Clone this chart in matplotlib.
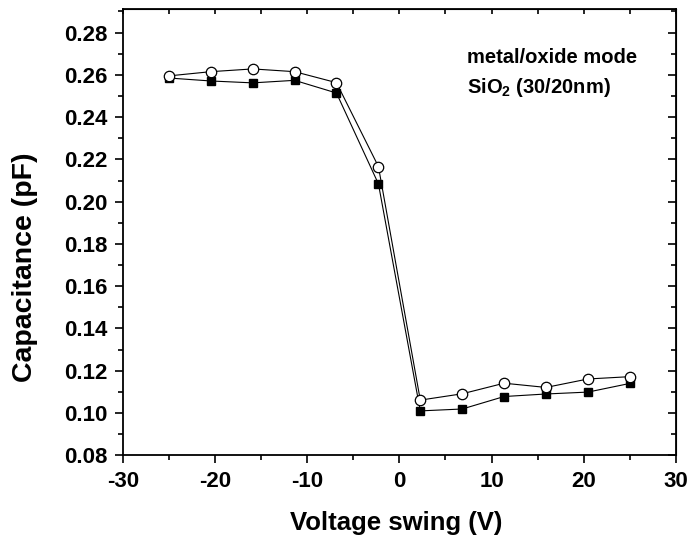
import numpy as np
import matplotlib.pyplot as plt
from matplotlib.ticker import MultipleLocator

plt.rcParams['font.family'] = ['Liberation Sans', 'DejaVu Sans']
plt.rcParams['font.weight'] = 'bold'
plt.rcParams['axes.unicode_minus'] = False
plt.rcParams['mathtext.fontset'] = 'custom'
plt.rcParams['mathtext.rm'] = 'Liberation Sans:bold'
plt.rcParams['mathtext.bf'] = 'Liberation Sans:bold'

# voltage swing (V)
voltage = [-25, -20.45, -15.9, -11.36, -6.82, -2.27, 2.27, 6.82, 11.36, 15.9, 20.45, 25]
# capacitance (pF)
cap_open = [0.2595, 0.2615, 0.2628, 0.2615, 0.2563, 0.2166, 0.1061, 0.1091, 0.1141,
            0.1121, 0.1161, 0.1172]
cap_filled = [0.2585, 0.2571, 0.2562, 0.2574, 0.2514, 0.2084, 0.1010, 0.1019, 0.1078,
              0.1090, 0.1099, 0.1140]

fig = plt.figure(figsize=(6.91, 5.42), dpi=100)
ax = fig.add_axes([0.1776, 0.160, 0.8007, 0.8228])

ax.plot(voltage, cap_filled, '-', color='k', lw=0.8, marker='s', markersize=6,
        markerfacecolor='k', markeredgecolor='k', zorder=3)
ax.plot(voltage, cap_open, '-', color='k', lw=0.8, marker='o', markersize=7.5,
        markerfacecolor='white', markeredgecolor='k', markeredgewidth=0.9, zorder=4)

ax.set_xlim(-30, 30)
ax.set_ylim(0.08, 0.291)
ax.xaxis.set_major_locator(MultipleLocator(10))
ax.xaxis.set_minor_locator(MultipleLocator(5))
ax.yaxis.set_major_locator(MultipleLocator(0.02))
ax.yaxis.set_minor_locator(MultipleLocator(0.01))
ax.yaxis.set_major_formatter(plt.FuncFormatter(lambda v, p: '%.2f' % v))

for s in ax.spines.values():
    s.set_linewidth(1.3)

ax.tick_params(which='both', direction='out', width=1.2, labelsize=16, pad=5)
ax.tick_params(which='major', length=6)
ax.tick_params(which='minor', length=3.5)

# mirrored inward ticks on top and right
axt = ax.secondary_xaxis('top')
axt.xaxis.set_major_locator(MultipleLocator(10))
axt.xaxis.set_minor_locator(MultipleLocator(5))
axt.tick_params(which='both', direction='in', width=1.2, length=3.5, labeltop=False)
axr = ax.secondary_yaxis('right')
axr.yaxis.set_major_locator(MultipleLocator(0.02))
axr.yaxis.set_minor_locator(MultipleLocator(0.01))
axr.tick_params(which='major', direction='in', width=1.2, length=5.5, labelright=False)
axr.tick_params(which='minor', direction='in', width=1.2, length=3.5, labelright=False)

ax.set_xlabel('Voltage swing (V)', fontsize=18.5, fontweight='bold')
ax.xaxis.set_label_coords(0.494, -0.125)
ax.set_ylabel('Capacitance (pF)', fontsize=20.5, fontweight='bold')
ax.yaxis.set_label_coords(-0.153, 0.422)

ax.text(0.622, 0.891, 'metal/oxide mode', transform=ax.transAxes, fontsize=14.5,
        fontweight='bold', ha='left', va='center')
ax.text(0.622, 0.824, r'SiO$_{2}$ (30/20nm)', transform=ax.transAxes, fontsize=14.5,
        fontweight='bold', ha='left', va='center')

fig.savefig('out.png', dpi=100)
